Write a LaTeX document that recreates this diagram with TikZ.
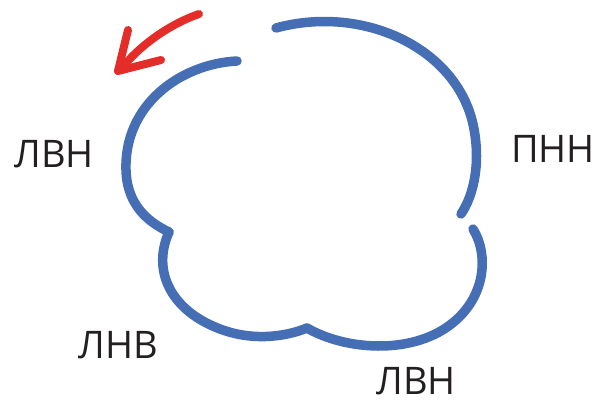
\documentclass[tikz,border=0pt]{standalone}
\usepackage{fontspec}
\setmainfont{Open Sans}
\usepackage{xcolor}
\definecolor{wall}{RGB}{70,110,180}
\definecolor{arrowred}{RGB}{228,44,40}
\definecolor{ink}{RGB}{35,31,32}

\begin{document}
\begin{tikzpicture}[x=1pt, y=-1pt,
  lobe/.style={wall, line width=9.5pt, line cap=round, line join=round},
  rotarrow/.style={arrowred, line width=8pt, line cap=round, line join=round},
  label/.style={ink, inner sep=0pt, font=\fontsize{38}{42}\selectfont}]
  \useasboundingbox (0,0) rectangle (599,403);

  % Upper-left lobe
  \draw[lobe] (237,61) .. controls (180,64) and (124,105) .. (126,170)
    .. controls (127,205) and (148,222) .. (169,232);

  % Lower-left lobe
  \draw[lobe] (169,232) .. controls (152,270) and (170,308) .. (215,327)
    .. controls (250,342) and (285,337) .. (307,328);

  % Lower-right lobe
  \draw[lobe] (307,328) .. controls (345,350) and (410,355) .. (450,325)
    .. controls (486,298) and (489,255) .. (473,229);

  % Upper-right lobe
  \draw[lobe] (276,28) .. controls (360,5) and (452,45) .. (472,120)
    .. controls (482,160) and (474,195) .. (461,214);

  % Rotation arrow
  \draw[rotarrow] (199,14) .. controls (170,24) and (140,45) .. (121,69);
  \draw[rotarrow] (128,30) -- (118,71) -- (161,60);

  % Region labels
  \node[label] (lvnLeft) at (54,154) {ЛВН};
  \node[label] (pnn) at (553,149) {ПНН};
  \node[label] (lnv) at (118,345) {ЛНВ};
  \node[label] (lvnBottom) at (416,381) {ЛВН};

\end{tikzpicture}
\end{document}
